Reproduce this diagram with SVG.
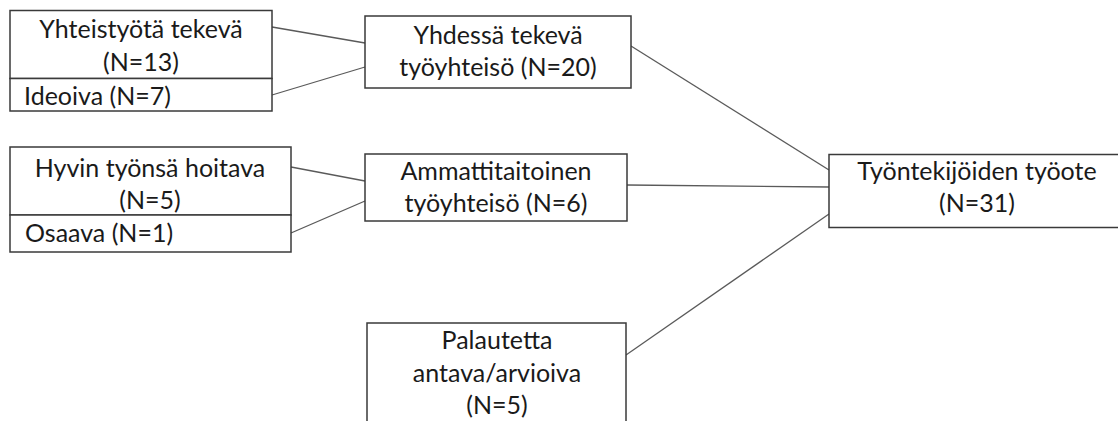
<svg xmlns="http://www.w3.org/2000/svg" width="1118" height="421" viewBox="0 0 1118 421">
  <style>
    .box { fill: #ffffff; stroke: #3a3a3a; stroke-width: 1.5; }
    .lbl { font-family: Lato, "Liberation Sans", sans-serif; font-size: 25px; fill: #1a1a1a; }
    .c { text-anchor: middle; }
    .edge { stroke: #5a5a5a; stroke-width: 1.3; fill: none; }
  </style>
  <rect width="1118" height="421" fill="#ffffff"/>

  <!-- connectors -->
  <g id="connectors">
    <line class="edge" x1="272" y1="27" x2="365" y2="43"/>
    <line class="edge" x1="272" y1="95" x2="365" y2="67"/>
    <line class="edge" x1="291" y1="167" x2="365" y2="181"/>
    <line class="edge" x1="291" y1="233" x2="365" y2="201"/>
    <line class="edge" x1="631" y1="46" x2="829" y2="170"/>
    <line class="edge" x1="627" y1="185" x2="829" y2="187"/>
    <line class="edge" x1="626" y1="355" x2="829" y2="214"/>
  </g>

  <!-- left group 1 -->
  <g id="yhteistyota">
    <rect class="box" x="10" y="10.5" width="262" height="68"/>
    <text class="lbl c" x="141" y="37.5">Yhteistyötä tekevä</text>
    <text class="lbl c" x="141" y="70.5">(N=13)</text>
  </g>
  <g id="ideoiva">
    <rect class="box" x="10" y="78.5" width="262" height="32.5"/>
    <text class="lbl" x="24" y="104.5">Ideoiva (N=7)</text>
  </g>

  <!-- left group 2 -->
  <g id="hyvin">
    <rect class="box" x="10" y="147" width="281" height="68"/>
    <text class="lbl c" x="150" y="176.5">Hyvin työnsä hoitava</text>
    <text class="lbl c" x="150" y="209">(N=5)</text>
  </g>
  <g id="osaava">
    <rect class="box" x="10" y="215" width="281" height="37"/>
    <text class="lbl" x="25" y="242">Osaava (N=1)</text>
  </g>

  <!-- middle column -->
  <g id="yhdessa">
    <rect class="box" x="365" y="16" width="266" height="72"/>
    <text class="lbl c" x="498" y="43.5">Yhdessä tekevä</text>
    <text class="lbl c" x="498" y="76">työyhteisö (N=20)</text>
  </g>
  <g id="ammattitaitoinen">
    <rect class="box" x="365" y="154" width="262" height="67"/>
    <text class="lbl c" x="496" y="180">Ammattitaitoinen</text>
    <text class="lbl c" x="496" y="212">työyhteisö (N=6)</text>
  </g>
  <g id="palautetta">
    <rect class="box" x="367" y="323" width="259" height="110"/>
    <text class="lbl c" x="497" y="348.5">Palautetta</text>
    <text class="lbl c" x="497" y="381.5">antava/arvioiva</text>
    <text class="lbl c" x="497" y="413.5">(N=5)</text>
  </g>

  <!-- result -->
  <g id="tyontekijoiden">
    <rect class="box" x="829" y="154.5" width="300" height="73"/>
    <text class="lbl c" x="977" y="180">Työntekijöiden työote</text>
    <text class="lbl c" x="977" y="212">(N=31)</text>
  </g>
</svg>
